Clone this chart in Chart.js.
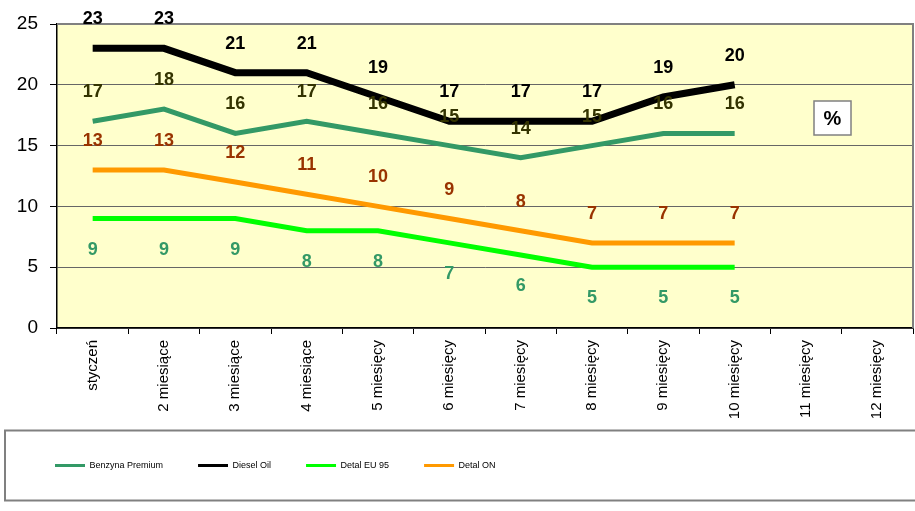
<!DOCTYPE html>
<html>
<head>
<meta charset="utf-8">
<script src="https://cdn.jsdelivr.net/npm/chart.js@4/dist/chart.umd.min.js"></script>
<style>
  html, body { margin: 0; padding: 0; background: #fff; }
  #wrap { position: relative; width: 915px; height: 511px; }
</style>
</head>
<body>
<div id="wrap"><canvas id="chart" width="915" height="511"></canvas></div>
<script>
// categories and series
const categories = ['styczeń', '2 miesiące', '3 miesiące', '4 miesiące', '5 miesięcy', '6 miesięcy',
  '7 miesięcy', '8 miesięcy', '9 miesięcy', '10 miesięcy', '11 miesięcy', '12 miesięcy'];
const benzynaPremium = [17, 18, 16, 17, 16, 15, 14, 15, 16, 16, null, null];
const dieselOil = [23, 23, 21, 21, 19, 17, 17, 17, 19, 20, null, null];
const detalEU95 = [9, 9, 9, 8, 8, 7, 6, 5, 5, 5, null, null];
const detalON = [13, 13, 12, 11, 10, 9, 8, 7, 7, 7, null, null];
const yMin = 0, yMax = 25, yStep = 5;

const FONT = "'Liberation Sans', Arial, sans-serif";
const LEGEND_PAD = 35;

// plot background + frame, value labels, "%" box, legend frame
const decorPlugin = {
  id: 'decor',
  afterLayout(chart) {
    // nudge the legend row (labels.padding also sets the item gap)
    const lg = chart.legend;
    if (lg) {
      lg.top += 8;
      lg.bottom += 8;
      lg.left += 14;
      lg.right += 14;
    }
  },
  beforeDraw(chart) {
    const { ctx, chartArea: a } = chart;
    ctx.save();
    ctx.fillStyle = '#FFFFCC';
    ctx.fillRect(a.left, a.top, a.right - a.left, a.bottom - a.top);
    ctx.restore();
  },
  beforeDatasetsDraw(chart) {
    const { ctx, chartArea: a } = chart;
    ctx.save();
    ctx.strokeStyle = '#808080';
    ctx.lineWidth = 2;
    ctx.beginPath();
    ctx.moveTo(a.left, a.top);
    ctx.lineTo(a.right, a.top);
    ctx.lineTo(a.right, a.bottom);
    ctx.stroke();
    ctx.restore();
  },
  afterDatasetsDraw(chart) {
    const { ctx, chartArea: a } = chart;
    ctx.save();
    ctx.font = 'bold 18px ' + FONT;
    ctx.textAlign = 'center';
    ctx.textBaseline = 'middle';
    chart.data.datasets.forEach((ds, i) => {
      const meta = chart.getDatasetMeta(i);
      ctx.fillStyle = ds.labelColor;
      meta.data.forEach((pt, j) => {
        const v = ds.data[j];
        if (v === null || v === undefined) return;
        ctx.fillText(String(v), pt.x, pt.y + ds.labelOffset);
      });
    });

    // "%" box
    const bx = a.right - 99, by = a.top + 77;
    ctx.fillStyle = '#fff';
    ctx.fillRect(bx, by, 37, 34);
    ctx.strokeStyle = '#808080';
    ctx.lineWidth = 1.5;
    ctx.strokeRect(bx, by, 37, 34);
    ctx.fillStyle = '#000';
    ctx.font = 'bold 20px ' + FONT;
    ctx.fillText('%', bx + 18.5, by + 18);
    ctx.restore();
  },
  afterDraw(chart) {
    const lg = chart.legend;
    if (!lg) return;
    const cy = lg.top + LEGEND_PAD + 4.5;
    const ctx = chart.ctx;
    ctx.save();
    ctx.strokeStyle = '#808080';
    ctx.lineWidth = 2;
    ctx.strokeRect(5, cy - 35, 930, 70);
    ctx.restore();
  }
};

new Chart(document.getElementById('chart'), {
  type: 'line',
  data: {
    labels: categories,
    datasets: [
      {
        label: 'Benzyna Premium',
        data: benzynaPremium,
        borderColor: '#339966',
        backgroundColor: '#339966',
        borderWidth: 5,
        labelColor: '#333300',
        labelOffset: -29,
      },
      {
        label: 'Diesel Oil',
        data: dieselOil,
        borderColor: '#000000',
        backgroundColor: '#000000',
        borderWidth: 7,
        labelColor: '#000000',
        labelOffset: -29,
      },
      {
        label: 'Detal EU 95',
        data: detalEU95,
        borderColor: '#00FF00',
        backgroundColor: '#00FF00',
        borderWidth: 5,
        labelColor: '#339966',
        labelOffset: 31,
      },
      {
        label: 'Detal ON',
        data: detalON,
        borderColor: '#FF9900',
        backgroundColor: '#FF9900',
        borderWidth: 5,
        labelColor: '#993300',
        labelOffset: -29,
      },
    ],
  },
  options: {
    responsive: false,
    animation: false,
    events: [],
    layout: { padding: { left: 6, right: 2, top: 24, bottom: 39 } },
    elements: {
      point: { radius: 0 },
      line: { tension: 0, borderJoinStyle: 'miter', borderCapStyle: 'butt' },
    },
    scales: {
      x: {
        offset: true,
        afterFit: (scale) => { scale.height = 90; },
        grid: {
          offset: true,
          drawOnChartArea: false,
          tickLength: 6,
          tickColor: '#000',
          tickWidth: 1,
        },
        border: { color: '#000', width: 1.5 },
        ticks: {
          autoSkip: false,
          minRotation: 90,
          maxRotation: 90,
          padding: 6,
          color: '#000',
          font: { family: FONT, size: 15 },
        },
      },
      y: {
        min: yMin,
        max: yMax,
        afterFit: (scale) => { scale.width = 51; },
        grid: {
          color: '#666',
          borderDash: [1, 2],
          lineWidth: 1,
          tickLength: 7,
          tickColor: '#000',
          tickBorderDash: [],
          tickWidth: 1,
        },
        border: { color: '#000', width: 1.5 },
        ticks: {
          stepSize: yStep,
          padding: 12,
          color: '#000',
          font: { family: FONT, size: 19 },
        },
      },
    },
    plugins: {
      title: { display: false },
      tooltip: { enabled: false },
      legend: {
        display: true,
        position: 'bottom',
        align: 'start',
        labels: {
          usePointStyle: true,
          pointStyle: 'line',
          pointStyleWidth: 30,
          padding: LEGEND_PAD,
          color: '#000',
          font: { family: FONT, size: 9 },
          generateLabels(chart) {
            return chart.data.datasets.map((ds, i) => ({
              text: ds.label,
              strokeStyle: ds.borderColor,
              fillStyle: ds.borderColor,
              lineWidth: 3,
              pointStyle: 'line',
              hidden: false,
              datasetIndex: i,
              fontColor: '#000',
            }));
          },
        },
      },
    },
  },
  plugins: [decorPlugin],
});
</script>
</body>
</html>
